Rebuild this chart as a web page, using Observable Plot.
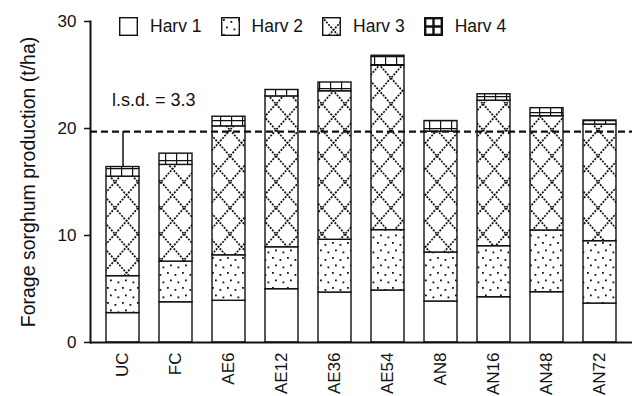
<!DOCTYPE html>
<html>
<head>
<meta charset="utf-8">
<script src="https://cdn.jsdelivr.net/npm/d3@7"></script>
<script src="https://cdn.jsdelivr.net/npm/@observablehq/plot@0.6"></script>
<style>
  html, body { margin: 0; padding: 0; background: white; }
  #wrap { position: relative; width: 637px; height: 396px; font-family: "Liberation Sans", Arial, sans-serif; }
  #legend { position: absolute; top: 16px; left: 119px; display: flex; align-items: center; font-size: 17.5px; color: #111; }
  .item { display: flex; align-items: center; margin-right: 19px; }
  .item svg { margin-right: 12px; display: block; }
</style>
</head>
<body>
<svg width="0" height="0" style="position:absolute">
  <defs>
    <pattern id="pDots" patternUnits="userSpaceOnUse" width="15" height="15">
      <rect width="15" height="15" fill="white"/>
      <rect x="2" y="2" width="1.8" height="1.8" fill="#111"/>
      <rect x="9.5" y="4" width="1.8" height="1.8" fill="#111"/>
      <rect x="5" y="9.5" width="1.8" height="1.8" fill="#111"/>
      <rect x="12.5" y="11.5" width="1.8" height="1.8" fill="#111"/>
    </pattern>
    <pattern id="pCross" patternUnits="userSpaceOnUse" width="23" height="26">
      <rect width="23" height="26" fill="white"/>
      <path d="M0,0L23,26M23,0L0,26" stroke="#111" stroke-width="1.7" stroke-dasharray="2,1.2" fill="none"/>
    </pattern>
    <pattern id="pGrid" patternUnits="userSpaceOnUse" width="11" height="8">
      <rect width="11" height="8" fill="white"/>
      <path d="M0,0V8M0,0H11" stroke="#111" stroke-width="2.4" fill="none"/>
    </pattern>
  </defs>
</svg>
<div id="wrap">
  <div id="chart"></div>
  <div id="legend"></div>
</div>
<script>
const categories = ["UC","FC","AE6","AE12","AE36","AE54","AN8","AN16","AN48","AN72"];
const seriesNames = ["Harv 1","Harv 2","Harv 3","Harv 4"];
const harv1 = [2.75, 3.76, 3.9, 4.98, 4.67, 4.86, 3.83, 4.23, 4.7, 3.64];
const harv2 = [3.45, 3.8, 4.25, 3.92, 4.93, 5.64, 4.58, 4.77, 5.77, 5.83];
const harv3 = [9.3, 9.04, 12.05, 14.1, 13.88, 15.36, 11.29, 13.6, 10.68, 10.9];
const harv4 = [0.9, 1.05, 0.9, 0.6, 0.82, 0.94, 1.0, 0.6, 0.75, 0.38];
const lsd = 3.3;
const lsdLabel = "l.s.d. = 3.3";
const yTicks = [0, 10, 20, 30];
const yTitle = "Forage sorghum production (t/ha)";

const fills = {"Harv 1": "white", "Harv 2": "url(#pDots)", "Harv 3": "url(#pCross)", "Harv 4": "url(#pGrid)"};
const seriesValues = [harv1, harv2, harv3, harv4];
const tidy = [];
seriesNames.forEach((s, k) => categories.forEach((c, i) => tidy.push({cat: c, series: s, value: seriesValues[k][i]})));

const ucTotal = seriesValues.reduce((a, arr) => a + arr[0], 0);
const lsdLine = ucTotal + lsd;
const errData = [{cat: "UC", y1: ucTotal, y2: lsdLine}];

const chart = Plot.plot({
  width: 637, height: 396,
  marginLeft: 90, marginRight: 5, marginTop: 21, marginBottom: 54,
  x: {domain: categories, paddingInner: 0.37, paddingOuter: 0.23, label: null},
  y: {domain: [0, 30], label: null},
  color: {type: "identity"},
  style: {fontFamily: "'Liberation Sans', Arial, sans-serif", fontSize: "17px", color: "#111", background: "white", overflow: "visible"},
  marks: [
    Plot.barY(tidy, {x: "cat", y: "value", fill: d => fills[d.series], stroke: "#111", strokeWidth: 1.4}),
    Plot.ruleX(errData, {x: "cat", y1: "y1", y2: "y2", stroke: "#111", strokeWidth: 1.5}),
    Plot.ruleY([lsdLine], {stroke: "#111", strokeWidth: 2.2, strokeDasharray: "7,4"}),
    Plot.text([lsdLabel], {x: () => "UC", y: () => 22.6, text: d => d, textAnchor: "start", dx: -11, fontSize: 18, fill: "#111"}),
    Plot.ruleY([0], {stroke: "#111", strokeWidth: 2}),
    Plot.axisY({ticks: yTicks, tickSize: 6, tickPadding: 8, fontSize: 17, strokeWidth: 1.5, label: null}),
    Plot.text([yTitle], {frameAnchor: "left", rotate: -90, dx: -62, textAnchor: "middle", text: d => d, fontSize: 19.5, fill: "#111"}),
    Plot.axisX({tickSize: 0, tickRotate: -90, tickPadding: 10, fontSize: 17, label: null}),
    Plot.frame({anchor: "left", stroke: "#111", strokeWidth: 2})
  ]
});
document.getElementById("chart").appendChild(chart);

// Legend
const legend = d3.select("#legend");
seriesNames.forEach(s => {
  const it = legend.append("div").attr("class", "item");
  const sv = it.append("svg").attr("width", 19).attr("height", 19);
  if (s === "Harv 4") {
    sv.append("rect").attr("x", 1.2).attr("y", 1.2).attr("width", 16.6).attr("height", 16.6).attr("fill", "white").attr("stroke", "#111").attr("stroke-width", 2.4);
    sv.append("path").attr("d", "M9.5,1.2V17.8M1.2,9.5H17.8").attr("stroke", "#111").attr("stroke-width", 2.4);
  } else {
    sv.append("rect").attr("x", 0.7).attr("y", 0.7).attr("width", 17.6).attr("height", 17.6).attr("fill", fills[s]).attr("stroke", "#111").attr("stroke-width", 1.4);
  }
  it.append("span").text(s);
});
</script>
</body>
</html>
